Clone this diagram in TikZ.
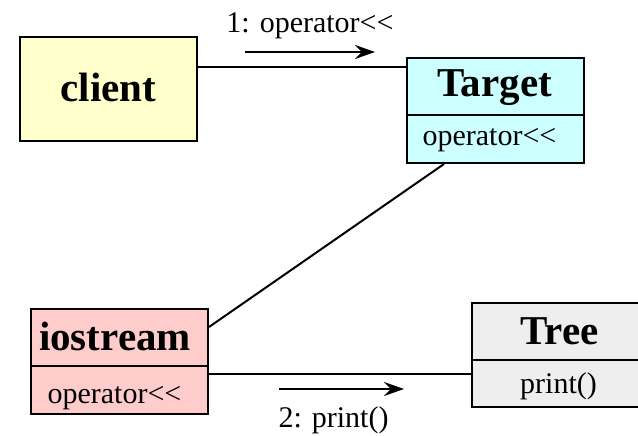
\documentclass[tikz,border=0pt]{standalone}
\usepackage{fontspec}
\setmainfont{Liberation Serif}
\usetikzlibrary{arrows.meta,shadows}
\definecolor{clientfill}{HTML}{FFFFCC}
\definecolor{targetfill}{HTML}{CCFFFF}
\definecolor{iosfill}{HTML}{FFCCCC}
\definecolor{treefill}{HTML}{EEEEEE}
\def\opl{operator<\kern0pt<}

\begin{document}
\begin{tikzpicture}[x=1pt,y=-1pt,
	box/.style={draw=black,line width=2pt,minimum width=177pt,inner sep=0pt,
		drop shadow={shadow xshift=1pt,shadow yshift=-1pt,fill=black!55,opacity=1}},
	title/.style={anchor=base,inner sep=0pt,font=\fontsize{41}{41}\selectfont\bfseries},
	oper/.style={anchor=base,inner sep=0pt,font=\fontsize{30}{30}\selectfont},
	link/.style={line width=2pt},
	msg/.style={line width=2.2pt,-{Stealth[length=20pt,width=14pt,inset=7pt]}}]
				\useasboundingbox (0,0) rectangle (638,436);
				
				\node[box,fill=clientfill,minimum height=104pt] (client) at (108.5,89) {};
				\node[title] (clientname) at (108.5,102) {client};
				
				\node[box,fill=targetfill,minimum height=105pt] (target) at (495.5,110.5) {};
				\draw[link] (target.west |- 0,115) -- (target.east |- 0,115);
				\node[title] (targetname) at (494.5,97) {Target};
				\node[oper] (targetop) at (489.5,146) {\opl};
				
				\node[box,fill=iosfill,minimum height=105pt] (iostream) at (119.5,361.5) {};
				\draw[link] (iostream.west |- 0,366) -- (iostream.east |- 0,366);
				\node[title] (iosname) at (115,350) {iostream};
				\node[oper] (iosop) at (114.5,403) {\opl};
				
				\node[box,fill=treefill,minimum height=104pt] (tree) at (560.5,355) {};
				\draw[link] (tree.west |- 0,360) -- (tree.east |- 0,360);
				\node[title] (treename) at (559.5,344) {Tree};
				\node[oper] (treeop) at (558.5,393) {print()};
				
				\coordinate (linkone) at (0,67);
				\coordinate (linktwo) at (0,374);
				\draw[link] (client.east |- linkone) -- (target.west |- linkone);
				\draw[link] ([xshift=38pt]target.south west) -- ([yshift=-19pt]iostream.north east);
				\draw[link] (iostream.east |- linktwo) -- (tree.west |- linktwo);
				
				\coordinate (msgonestart) at (245,52);
				\coordinate (msgoneend) at (375,52);
				\draw[msg] (msgonestart) -- (msgoneend);
				\node[oper] (msgonelabel) at (310,33) {1: \opl};
				
				\coordinate (msgtwostart) at (279,389);
				\coordinate (msgtwoend) at (404,389);
				\draw[msg] (msgtwostart) -- (msgtwoend);
				\node[oper] (msgtwolabel) at (333.5,427) {2: print()};
			\end{tikzpicture}
\end{document}
